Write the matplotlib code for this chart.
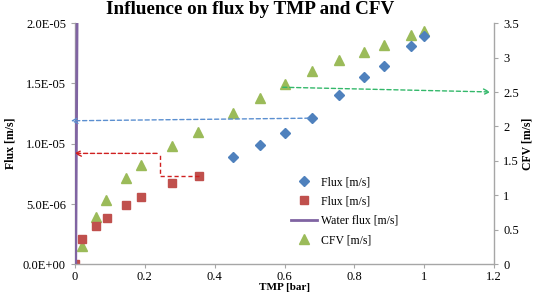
import matplotlib
matplotlib.use("Agg")
import matplotlib.pyplot as plt
from matplotlib.ticker import FuncFormatter, MultipleLocator

plt.rcParams['font.family'] = ['Liberation Serif', 'DejaVu Serif']

# Data
tmp_blue = [0.452, 0.529, 0.602, 0.678, 0.756, 0.827, 0.886, 0.961, 0.999]
flux_blue = [8.9e-6, 9.86e-6, 1.088e-5, 1.212e-5, 1.402e-5, 1.551e-5, 1.647e-5, 1.807e-5, 1.89e-5]

tmp_red = [0.0, 0.021, 0.060, 0.0905, 0.145, 0.190, 0.279, 0.354]
flux_red = [0.0, 2.07e-6, 3.22e-6, 3.83e-6, 4.93e-6, 5.62e-6, 6.78e-6, 7.3e-6]

tmp_water = [0.002, 0.006]
flux_water = [0.0, 2.05e-5]

tmp_cfv = [0.0, 0.021, 0.060, 0.090, 0.145, 0.190, 0.279, 0.353, 0.452, 0.529,
           0.602, 0.678, 0.756, 0.827, 0.886, 0.961, 0.999]
cfv = [0.0, 0.27, 0.69, 0.94, 1.25, 1.44, 1.71, 1.92, 2.20, 2.42,
       2.61, 2.80, 2.96, 3.085, 3.18, 3.32, 3.39]

x_ticks = [0, 0.2, 0.4, 0.6, 0.8, 1.0, 1.2]
x_tick_labels = ["0", "0.2", "0.4", "0.6", "0.8", "1", "1.2"]

c_blue = "#4F81BD"
c_red = "#C0504D"
c_purple = "#8064A2"
c_green = "#9BBB59"
spine_c = "#A6A6A6"

fig = plt.figure(figsize=(5.37, 2.92), dpi=100)
ax = fig.add_axes([0.1397, 0.0945, 0.7803, 0.8265])
ax2 = ax.twinx()

ax.set_zorder(ax2.get_zorder() + 1)
ax.patch.set_visible(False)

h1, = ax.plot(tmp_blue, flux_blue, linestyle='none', marker='D', ms=5.3, color=c_blue, label='Flux [m/s]')
h2, = ax.plot(tmp_red, flux_red, linestyle='none', marker='s', ms=6.3, color=c_red, label='Flux [m/s]')
h3, = ax.plot(tmp_water, flux_water, color=c_purple, lw=2.0, label='Water flux [m/s]', zorder=3)
h4, = ax2.plot(tmp_cfv, cfv, linestyle='none', marker='^', ms=7.3, color=c_green, label='CFV [m/s]')

ax.set_xlim(0, 1.2)
ax.set_ylim(0, 2.0e-5)
ax2.set_ylim(0, 3.5)
ax.set_xticks(x_ticks)
ax.set_xticklabels(x_tick_labels)
ax.yaxis.set_major_locator(MultipleLocator(5e-6))
ax.yaxis.set_major_formatter(FuncFormatter(lambda v, p: f"{v:.1E}"))
ax2.yaxis.set_major_locator(MultipleLocator(0.5))
ax2.yaxis.set_major_formatter(FuncFormatter(lambda v, p: f"{v:g}"))

for a in (ax, ax2):
    a.spines['top'].set_visible(False)
    for s in ('left', 'right', 'bottom'):
        a.spines[s].set_color(spine_c)
        a.spines[s].set_linewidth(1.0)
    a.tick_params(axis='both', colors=spine_c, labelcolor='black', labelsize=9, length=3, width=0.8)
ax.tick_params(axis='x', pad=2)
ax.spines['right'].set_visible(False)
ax2.spines['left'].set_visible(False)
ax2.spines['bottom'].set_visible(False)

ax.set_ylabel('Flux [m/s]', fontweight='bold', fontsize=8.5, labelpad=5)
ax.set_xlabel('TMP [bar]', fontweight='bold', fontsize=8, labelpad=0)
ax2.set_ylabel('CFV [m/s]', fontweight='bold', fontsize=8.5, labelpad=2)

fig.text(0.466, 0.968, 'Influence on flux by TMP and CFV', ha='center', va='center',
         fontsize=13.8, fontweight='bold')

# Annotation arrows
arrow_kw = dict(arrowstyle='->', linestyle=(0, (3, 2)), lw=1.0, mutation_scale=10)
# blue: from blue point at TMP 0.678 to left axis
ax.annotate('', xy=(-0.02, 1.19e-5), xytext=(tmp_blue[3], flux_blue[3]),
            arrowprops=dict(color='#5B8FD0', **arrow_kw), annotation_clip=False)
# red: stepped path from last red point to left axis
xr = 0.243
yr = 9.2e-6
ax.plot([tmp_red[-1], xr, xr], [flux_red[-1], flux_red[-1], yr], color='#D02020',
        linestyle=(0, (3, 2)), lw=1.0)
ax.annotate('', xy=(-0.01, yr), xytext=(xr, yr),
            arrowprops=dict(color='#D02020', **arrow_kw), annotation_clip=False)
# green: from CFV point at 0.602 to right axis
ax2.annotate('', xy=(1.198, 2.5), xytext=(tmp_cfv[10] - 0.015, cfv[10] - 0.04),
             arrowprops=dict(color='#33B86A', **arrow_kw), annotation_clip=False)

leg = ax.legend(handles=[h1, h2, h3, h4], loc='upper left', bbox_to_anchor=(0.505, 0.385),
                frameon=False, fontsize=8.5, handlelength=2.2, labelspacing=0.62,
                borderaxespad=0, handletextpad=0.3)

fig.savefig('out.png', dpi=100)
